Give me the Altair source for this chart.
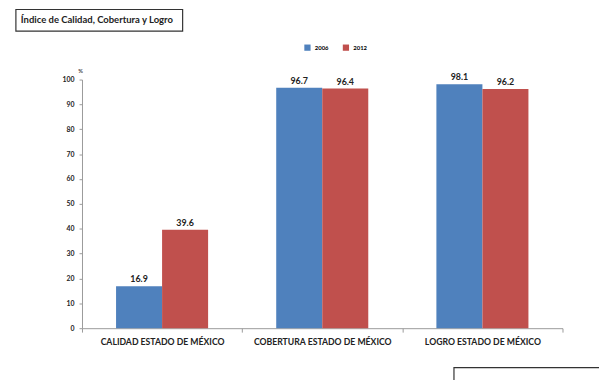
import altair as alt
import pandas as pd

categories = ["CALIDAD ESTADO DE MÉXICO", "COBERTURA ESTADO DE MÉXICO", "LOGRO ESTADO DE MÉXICO"]
years = ["2006", "2012"]
values_2006 = [16.9, 96.7, 98.1]
values_2012 = [39.6, 96.4, 96.2]
colors = ["#4F81BD", "#C0504D"]
title_text = "Índice de Calidad, Cobertura y Logro"
y_ticks = [0, 10, 20, 30, 40, 50, 60, 70, 80, 90, 100]

rows = []
for c, a, b in zip(categories, values_2006, values_2012):
    rows.append({"cat": c, "year": years[0], "value": a})
    rows.append({"cat": c, "year": years[1], "value": b})
df = pd.DataFrame(rows)

FONT = "Lato"

x = alt.X("cat:N", sort=categories, title=None,
          scale=alt.Scale(paddingInner=0, paddingOuter=0),
          axis=alt.Axis(labelAngle=0, labelFontSize=8.8, labelFontWeight="bold", labelColor="#222",
                        labelFont=FONT, tickBand="extent", tickSize=4, tickColor="#999",
                        domainColor="#999", labelPadding=6))
xo = alt.XOffset("year:N", sort=years, scale=alt.Scale(paddingInner=0, paddingOuter=0.74))
y = alt.Y("value:Q", scale=alt.Scale(domain=[0, 100], nice=False),
          axis=alt.Axis(values=y_ticks, grid=False, title="%", titleAngle=0,
                        titleX=-2, titleY=-6, titleFontSize=6, titleFontWeight="normal",
                        titleFont=FONT, labelFontSize=7, labelFont=FONT, labelFontWeight="bold",
                        labelColor="#222", tickSize=3, tickColor="#999", domainColor="#999",
                        labelPadding=5, labelOverlap=False))

bars = alt.Chart(df).mark_bar().encode(
    x=x, xOffset=xo, y=y,
    color=alt.Color("year:N", sort=years, scale=alt.Scale(domain=years, range=colors),
                    legend=alt.Legend(title=None, orient="none", direction="horizontal",
                                      legendX=225, legendY=-36, symbolType="square",
                                      symbolSize=40, labelFontSize=6, labelFont=FONT,
                                      labelFontWeight="bold", columnPadding=14, symbolStrokeWidth=0))
)

labels = alt.Chart(df).mark_text(dy=-7, fontSize=9, fontWeight="bold", font=FONT, color="#222").encode(
    x=x, xOffset=xo, y=y,
    text=alt.Text("value:Q", format=".1f")
)

one = alt.Data(values=[{"a": 1}])
title_box = alt.Chart(one).mark_rect(fill="white", stroke="#333", strokeWidth=1.2).encode(
    x=alt.value(-67), x2=alt.value(102), y=alt.value(-71), y2=alt.value(-49)
)
title_lbl = alt.Chart(one).mark_text(align="left", baseline="middle", fontSize=9.6, font=FONT,
                                      fontWeight="bold", color="#222").encode(
    x=alt.value(-62), y=alt.value(-60), text=alt.value(title_text)
)
src_box = alt.Chart(one).mark_rect(fill="white", stroke="#333", strokeWidth=1.2).encode(
    x=alt.value(377), x2=alt.value(540), y=alt.value(292), y2=alt.value(320)
)

chart = alt.layer(title_box, title_lbl, src_box, bars, labels).properties(
    width=487, height=252,
    autosize=alt.AutoSizeParams(type="none"),
    padding={"left": 75, "top": 70, "right": 37, "bottom": 50},
).configure_view(stroke=None)

chart.save("out.html", embed_options={"renderer": "svg", "actions": False})
